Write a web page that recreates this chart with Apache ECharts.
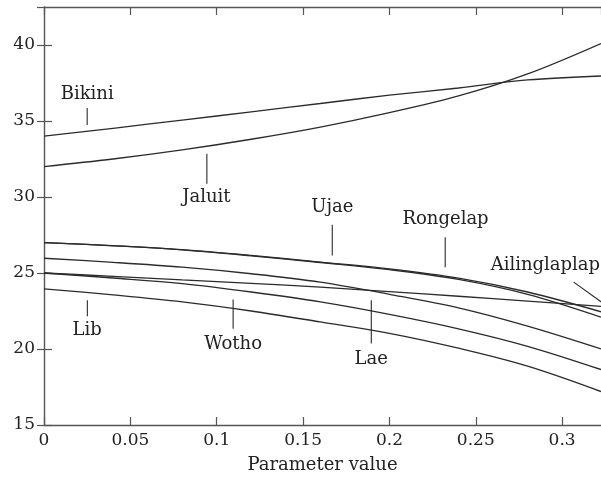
<!DOCTYPE html>
<html>
<head>
<meta charset="utf-8">
<script src="https://cdn.jsdelivr.net/npm/echarts@6/dist/echarts.min.js"></script>
<style>
html, body { margin: 0; padding: 0; background: #fff; }
#chart { width: 601px; height: 487px; }
</style>
</head>
<body>
<div id="chart"></div>
<script>
var xs = [0, 0.04, 0.08, 0.12, 0.16, 0.2, 0.24, 0.28, 0.3225];

var bikini       = [34.0, 34.52, 35.06, 35.6, 36.15, 36.7, 37.17, 37.7, 37.96];
var jaluit       = [32.0, 32.5, 33.1, 33.8, 34.6, 35.55, 36.65, 38.1, 40.1];
var ujae         = [27.0, 26.8, 26.54, 26.16, 25.72, 25.27, 24.66, 23.75, 22.45];
var rongelap     = [27.0, 26.79, 26.52, 26.13, 25.69, 25.22, 24.58, 23.6, 22.1];
var ailinglaplap = [25.0, 24.78, 24.55, 24.32, 24.07, 23.78, 23.47, 23.15, 22.8];
var lae          = [25.97, 25.7, 25.38, 24.95, 24.4, 23.6, 22.7, 21.5, 20.0];
var wotho        = [25.0, 24.67, 24.3, 23.75, 23.1, 22.28, 21.33, 20.18, 18.65];
var lib          = [23.96, 23.56, 23.1, 22.5, 21.78, 21.03, 20.05, 18.87, 17.2];

var curveNames = ["Bikini", "Jaluit", "Ujae", "Rongelap", "Ailinglaplap", "Lae", "Wotho", "Lib"];
var curveValues = [bikini, jaluit, ujae, rongelap, ailinglaplap, lae, wotho, lib];

// callouts: text anchor and leader line, in data units
var labelText = ["Bikini", "Jaluit", "Ujae", "Rongelap", "Ailinglaplap", "Lib", "Wotho", "Lae"];
var labelX    = [0.025, 0.094, 0.167, 0.2325, 0.2903, 0.025, 0.1095, 0.1895];
var labelY    = [36.75, 29.95, 29.3, 28.5, 25.5, 21.23, 20.3, 19.33];
var leadX1    = [0.025, 0.0943, 0.1669, 0.2323, 0.3067, 0.0251, 0.1095, 0.1895];
var leadY1    = [35.85, 32.84, 28.18, 27.35, 24.4, 23.2, 23.26, 23.2];
var leadX2    = [0.025, 0.0943, 0.1669, 0.2323, 0.3227, 0.0251, 0.1095, 0.1895];
var leadY2    = [34.74, 30.87, 26.15, 25.38, 23.09, 22.15, 21.34, 20.36];

var xTicks = [0, 0.05, 0.1, 0.15, 0.2, 0.25, 0.3];

var chart = echarts.init(document.getElementById("chart"));

var lineColor = "#2b2b2b";
var frameColor = "#555";
var font = "DejaVu Serif";

var series = curveNames.map(function (name, i) {
    return {
        name: name,
        type: "line",
        smooth: 0.35,
        showSymbol: false,
        symbol: "none",
        xAxisIndex: 0,
        yAxisIndex: 0,
        lineStyle: { color: lineColor, width: 1.3 },
        data: xs.map(function (x, j) { return [x, curveValues[i][j]]; }),
        z: 2
    };
});

series.push({
    type: "custom",
    name: "callouts",
    clip: false,
    silent: true,
    xAxisIndex: 0,
    yAxisIndex: 0,
    data: labelText.map(function (t, i) { return [labelX[i], labelY[i], i]; }),
    renderItem: function (params, api) {
        var i = api.value(2);
        var p = api.coord([labelX[i], labelY[i]]);
        var a = api.coord([leadX1[i], leadY1[i]]);
        var b = api.coord([leadX2[i], leadY2[i]]);
        return {
            type: "group",
            children: [
                {
                    type: "line",
                    shape: { x1: a[0], y1: a[1], x2: b[0], y2: b[1] },
                    style: { stroke: lineColor, lineWidth: 1.1 }
                },
                {
                    type: "text",
                    x: p[0],
                    y: p[1],
                    style: {
                        text: labelText[i],
                        fill: "#222",
                        font: "18px '" + font + "'",
                        align: "center",
                        verticalAlign: "middle"
                    }
                }
            ]
        };
    },
    z: 3
});

var option = {
    animation: false,
    backgroundColor: "#fff",
    grid: { left: 44, top: 7, right: 0, bottom: 62 },
    xAxis: [
        {
            type: "value",
            min: 0,
            max: 0.3225,
            interval: 0.05,
            name: "Parameter value",
            nameLocation: "middle",
            nameGap: 31,
            nameTextStyle: { fontFamily: font, fontSize: 18, color: "#222" },
            axisLine: { show: true, lineStyle: { color: frameColor, width: 1.4 } },
            axisTick: { show: true, inside: true, length: 8, lineStyle: { color: frameColor, width: 1.2 } },
            axisLabel: {
                fontFamily: font, fontSize: 17, color: "#222", margin: 7,
                showMaxLabel: false,
                formatter: function (v) { return xTicks.indexOf(Math.round(v * 100) / 100) >= 0 ? String(Math.round(v * 100) / 100) : ""; }
            },
            splitLine: { show: false }
        },
        {
            type: "value",
            position: "top",
            min: 0,
            max: 0.3225,
            interval: 0.05,
            axisLine: { show: true, lineStyle: { color: frameColor, width: 1.4 } },
            axisTick: { show: true, inside: true, length: 8, lineStyle: { color: frameColor, width: 1.2 } },
            axisLabel: { show: false },
            splitLine: { show: false }
        }
    ],
    yAxis: [
        {
            type: "value",
            min: 15,
            max: 42.5,
            interval: 5,
            axisLine: { show: true, lineStyle: { color: frameColor, width: 1.4 } },
            axisTick: { show: true, inside: true, length: 8, lineStyle: { color: frameColor, width: 1.2 } },
            axisLabel: { fontFamily: font, fontSize: 17, color: "#222", margin: 9, showMaxLabel: false },
            splitLine: { show: false }
        },
        {
            type: "value",
            position: "right",
            min: 15,
            max: 42.5,
            interval: 5,
            axisLine: { show: false },
            axisTick: { show: true, inside: true, length: 7, lineStyle: { color: frameColor, width: 1.2 } },
            axisLabel: { show: false },
            splitLine: { show: false }
        }
    ],
    series: series
};

chart.setOption(option);
</script>
</body>
</html>
